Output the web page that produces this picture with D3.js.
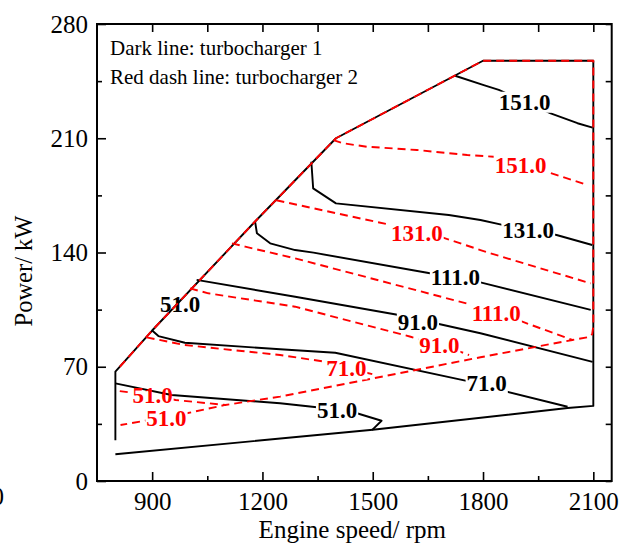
<!DOCTYPE html>
<html>
<head>
<meta charset="utf-8">
<script src="https://cdn.jsdelivr.net/npm/d3@7/dist/d3.min.js"></script>
<style>
  body { margin: 0; background: #fff; }
  svg { display: block; font-family: "Liberation Serif", "Times New Roman", serif; }
</style>
</head>
<body>
<div id="chart"></div>
<script>
// ---- data (engine speed in rpm, power in kW) ----
const speedTicks = [900, 1200, 1500, 1800, 2100];
const speedMinor = [1050, 1350, 1650, 1950];
const powerTicks = [0, 70, 140, 210, 280];
const powerMinor = [35, 105, 175, 245];

const legendLines = ["Dark line: turbocharger 1", "Red dash line: turbocharger 2"];

// turbocharger 1 (dark solid)
const t1Envelope = [[800,25],[800,67],[900,92.2],[1180,159],[1400,210],[1800,257.5],[2100,257.5],[2100,46],[2030,44.7],[1500,31.4],[800,16.4]];
const t1_51 = [[800,59.8],[953,52.7],[1248,47.6],[1348,45.2],[1457,41.5],[1524,36.9],[1498,31.2]];
const t1_71 = [[900,92.2],[917,88.8],[989,84.7],[1248,80.7],[1398,78.6],[1752,61.5],[1866,54.7],[2030,45.5]];
const t1_91 = [[1021,123.2],[1289,112.9],[1571,101.7],[1680,96.2],[1793,90.5],[2098,73]];
const t1_111 = [[1180,158.9],[1185,151.8],[1221,145.6],[1289,141.5],[1339,139.9],[1648,127.6],[1793,121.7],[2093,104.8]];
const t1_131 = [[1333,195.6],[1338,179.3],[1400,170.1],[1707,163],[1793,159.9],[1853,156.9],[2000,150.7],[2097,144.6]];
const t1_151 = [[1724,248.3],[1802,242.6],[1843,239.6],[1984,225.3],[2057,219.2],[2098,216.5]];

// turbocharger 2 (red dashed)
const t2Boundary = [[812,70],[900,92.2],[1180,159],[1400,210],[1800,257.5],[2100,257.5],[2100,95],[2097,90],[2090,88.3],[2043,86.4],[1793,75.8],[1248,51.7],[1099,46.6],[994,41.5],[814,34.3]];
const t2_51 = [[812,55.1],[901,52.4],[964,49.6],[1099,46.6]];
const t2_71 = [[885,88],[989,83.3],[1248,77.2],[1370,73.1],[1480,66.5],[1505,65.2]];
const t2_91 = [[1003,118],[1053,115],[1289,106.8],[1603,88.4],[1741,79],[1762,77.2]];
const t2_111 = [[1117,145.6],[1153,143.6],[1289,136.4],[1760,108.5],[1907,97.6],[2043,86.4]];
const t2_131 = [[1238,172],[1548,156.9],[1689,149.3],[1793,141.5],[1820,139.5],[2093,121.1]];
const t2_151 = [[1393,208.9],[1420,206.9],[1484,204.8],[1620,202.8],[1757,199.7],[1829,198.7],[1975,189.3],[2084,181.4]];

// label positions [rpm, kW, text]
const t1Labels = [[1913,232.4,"151.0"],[1923,153.8,"131.0"],[1725,125.2,"111.0"],[1623,97.6,"91.0"],[1810,59.9,"71.0"],[1403,43.5,"51.0"],[976,108.5,"51.0"]];
const t2Labels = [[1902,193.6,"151.0"],[1620,151.8,"131.0"],[1836,102.7,"111.0"],[1681,83.3,"91.0"],[1428,69,"71.0"],[901,52.7,"51.0"],[939,38.4,"51.0"]];

// ---- layout ----
const outerW = 625, outerH = 547;
const margin = { left: 97, right: 13.3, top: 24, bottom: 66 };
const w = outerW - margin.left - margin.right,
  h = outerH - margin.top - margin.bottom;

const x = d3.scaleLinear().domain([750, 2150]).range([0, w]);
const y = d3.scaleLinear().domain([0, 280]).range([h, 0]);

const svg = d3.select('#chart').append('svg')
  .attr('width', outerW)
  .attr('height', outerH);

const g = svg.append('g')
  .attr('transform', `translate(${margin.left}, ${margin.top})`);

const line = d3.line().x(d => x(d[0])).y(d => y(d[1]));
const fmt = d3.format('d');

// axes
function styleAxis(sel) {
  sel.select('.domain').remove();
  sel.selectAll('line').attr('stroke', '#000').attr('stroke-width', 1.6);
  sel.selectAll('text').attr('font-size', 25).attr('fill', '#000')
    .attr('font-family', '"Liberation Serif", "Times New Roman", serif');
}

g.append('g').attr('transform', `translate(0,${h})`)
  .call(d3.axisBottom(x).tickValues(speedTicks).tickFormat(fmt).tickSizeInner(-9).tickSizeOuter(0).tickPadding(11))
  .call(styleAxis);
g.append('g').attr('transform', `translate(0,${h})`)
  .call(d3.axisBottom(x).tickValues(speedMinor).tickSizeInner(-5).tickSizeOuter(0).tickFormat(''))
  .call(styleAxis);
g.append('g')
  .call(d3.axisLeft(y).tickValues(powerTicks).tickFormat(fmt).tickSizeInner(-9).tickSizeOuter(0).tickPadding(9))
  .call(styleAxis);
g.append('g')
  .call(d3.axisLeft(y).tickValues(powerMinor).tickSizeInner(-5).tickSizeOuter(0).tickFormat(''))
  .call(styleAxis);
g.append('g')
  .call(d3.axisTop(x).tickValues(speedTicks.concat(speedMinor)).tickSizeInner(-8).tickSizeOuter(0).tickFormat(''))
  .call(styleAxis);
g.append('g').attr('transform', `translate(${w},0)`)
  .call(d3.axisRight(y).tickValues(powerTicks.concat(powerMinor)).tickSizeInner(-6).tickSizeOuter(0).tickFormat(''))
  .call(styleAxis);

g.append('rect')
  .attr('width', w).attr('height', h)
  .attr('fill', 'none').attr('stroke', '#000').attr('stroke-width', 2);

// legend text
g.selectAll('.legend')
  .data(legendLines)
  .enter()
  .append('text')
  .attr('x', 13)
  .attr('y', (d, i) => 31 + i * 28.5)
  .attr('font-size', 21)
  .text(d => d);

// axis titles
svg.append('text')
  .attr('x', margin.left + w / 2 - 2)
  .attr('y', 538)
  .attr('text-anchor', 'middle')
  .attr('font-size', 25)
  .text('Engine speed/ rpm');

svg.append('text')
  .attr('transform', 'translate(32, 271) rotate(-90)')
  .attr('text-anchor', 'middle')
  .attr('font-size', 24.5)
  .text('Power/ kW');

// cropped tick label at the left edge, as in the source picture
svg.append('text')
  .attr('x', 4).attr('y', 505)
  .attr('text-anchor', 'end')
  .attr('font-size', 25)
  .text('0');

// contours: each line is cut where its label sits (mask)
const layers = [
  { lines: [t1Envelope], labels: [], color: '#000', dash: null },
  { lines: [t1_151, t1_131, t1_111, t1_91, t1_71, t1_51], labels: t1Labels, color: '#000', dash: null },
  { lines: [t2_151, t2_131, t2_111, t2_91, t2_71, t2_51, t2Boundary], labels: t2Labels, color: '#ff0000', dash: '8,5' }
];

const defs = svg.append('defs');
let maskId = 0;

layers.forEach(layer => {
  const lg = g.append('g');
  // draw labels first to measure them
  const texts = lg.selectAll('text.lab')
    .data(layer.labels)
    .enter()
    .append('text')
    .attr('class', 'lab')
    .attr('x', d => x(d[0]))
    .attr('y', d => y(d[1]))
    .attr('dy', '0.35em')
    .attr('text-anchor', 'middle')
    .attr('font-size', 23)
    .attr('font-weight', 'bold')
    .attr('fill', layer.color)
    .text(d => d[2]);

  const boxes = [];
  texts.each(function () { boxes.push(this.getBBox()); });

  const id = `cut-${maskId++}`;
  const mask = defs.append('mask').attr('id', id)
    .attr('maskUnits', 'userSpaceOnUse')
    .attr('x', -margin.left).attr('y', -margin.top)
    .attr('width', outerW).attr('height', outerH);
  mask.append('rect')
    .attr('x', -margin.left).attr('y', -margin.top)
    .attr('width', outerW).attr('height', outerH)
    .attr('fill', '#fff');
  mask.selectAll('rect.hole')
    .data(boxes)
    .enter()
    .append('rect')
    .attr('class', 'hole')
    .attr('x', b => b.x - 1)
    .attr('y', b => b.y + 2)
    .attr('width', b => b.width + 2)
    .attr('height', b => b.height - 4)
    .attr('fill', '#000');

  lg.insert('g', 'text')
    .attr('mask', layer.labels.length ? `url(#${id})` : null)
    .selectAll('path')
    .data(layer.lines)
    .enter()
    .append('path')
    .attr('d', line)
    .attr('fill', 'none')
    .attr('stroke', layer.color)
    .attr('stroke-width', 1.9)
    .attr('stroke-dasharray', layer.dash)
    .attr('stroke-linejoin', 'round');
});
</script>
</body>
</html>
